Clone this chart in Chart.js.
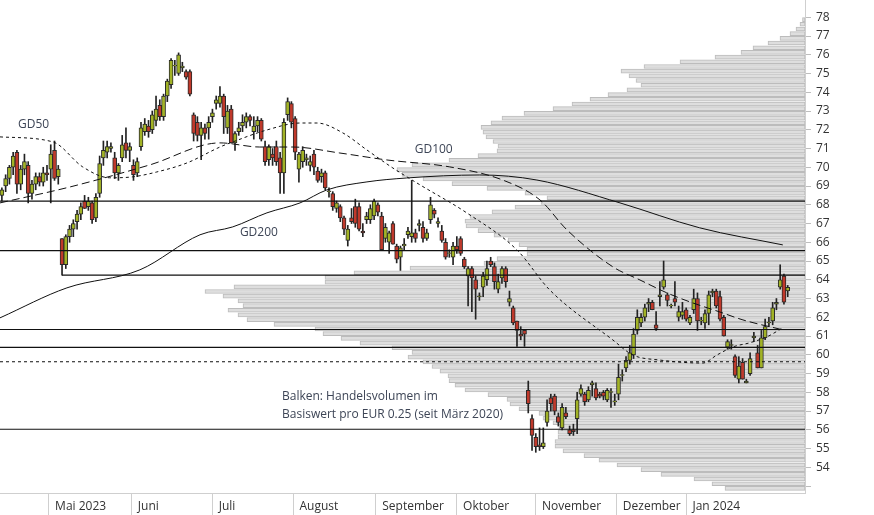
<!DOCTYPE html>
<html>
<head>
<meta charset="utf-8">
<script src="https://cdn.jsdelivr.net/npm/chart.js@4"></script>
<style>
  html, body { margin: 0; padding: 0; background: #fff; }
  #wrap { position: relative; width: 874px; height: 515px; }
  #wrap canvas { position: absolute; left: 0; top: 0; }
</style>
</head>
<body>
<div id="wrap">
  <canvas id="volChart" width="874" height="515"></canvas>
  <canvas id="priceChart" width="874" height="515"></canvas>
</div>
<script>
// Kursdaten (Handelstage ab Mitte April 2023)
const opens = [68.5,69.0,69.4,70.0,70.8,69.1,69.9,70.1,68.6,69.1,69.5,69.2,69.7,69.9,70.9,69.5,66.2,64.8,66.3,66.7,67.1,67.5,68.2,67.9,68.1,67.3,
  68.6,70.5,70.8,71.0,70.5,69.7,70.5,71.3,70.9,70.1,69.7,71.1,71.9,72.2,72.0,72.5,73.3,72.7,73.8,74.4,75.4,75.0,75.3,75.1,75.1,72.8,72.4,71.7,72.1,
  72.1,72.7,73.4,73.4,73.8,72.1,73.1,71.3,71.9,72.2,72.4,72.7,71.9,72.2,72.5,71.1,70.4,70.7,71.1,70.5,69.7,72.8,73.4,72.6,69.9,70.3,70.4,70.1,70.7,
  69.8,69.5,69.7,68.7,68.6,67.8,67.9,67.3,66.1,67.3,67.9,67.9,66.6,67.2,67.2,67.4,68.0,67.4,66.2,66.0,67.0,65.8,65.2,65.8,66.4,66.3,66.5,66.9,66.8,
  66.2,67.2,67.7,67.0,66.6,66.0,65.4,65.2,65.8,66.2,65.1,64.2,64.6,64.0,63.1,63.6,64.0,65.0,64.7,63.5,64.1,64.6,62.8,62.5,61.8,61.1,61.3,58.1,56.6,
  55.6,55.2,55.1,56.4,57.7,57.8,56.7,56.1,56.9,56.0,56.0,56.6,57.9,57.9,57.6,58.4,58.2,57.9,58.0,57.6,58.0,57.5,57.9,58.9,59.3,59.7,60.0,61.3,61.7,
  62.0,62.7,62.8,61.6,63.1,63.6,63.2,62.6,63.0,62.0,62.1,62.4,61.7,62.4,63.0,61.8,61.7,62.2,63.3,63.4,63.1,62.0,60.4,60.5,59.9,58.7,59.6,58.5,59.0,
  60.9,60.1,59.3,60.9,61.7,61.8,62.7,63.6,64.2,63.4];
const highs = [68.9,69.6,70.1,70.8,70.9,70.1,70.7,70.3,69.3,69.7,69.7,70.0,70.1,71.2,71.4,70.1,66.2,66.4,66.9,67.2,67.7,68.1,68.5,68.4,68.2,68.6,
  70.6,71.4,71.4,71.3,70.8,70.2,71.7,72.1,71.3,70.4,70.5,72.4,72.6,72.5,73.0,73.8,73.6,73.9,74.7,75.8,75.7,76.1,75.6,75.2,75.2,72.9,72.7,72.4,72.3,
  72.7,73.1,73.8,74.3,73.9,73.3,73.3,71.9,72.4,72.8,72.9,72.8,72.7,72.7,72.6,71.4,71.2,71.0,71.4,70.8,72.6,73.7,73.5,72.7,70.8,71.1,70.7,70.6,70.9,
  70.0,69.9,69.8,68.9,68.7,68.2,68.0,67.4,66.9,67.8,68.3,68.1,67.0,67.6,68.0,68.3,68.1,67.6,67.0,66.6,67.1,65.9,65.8,66.2,66.8,69.3,66.7,67.2,67.1,
  66.7,68.4,67.8,67.3,66.9,66.2,65.6,66.0,66.3,66.3,65.2,64.7,64.7,64.2,63.3,64.4,65.0,65.2,64.9,64.3,64.7,64.7,63.4,62.6,61.8,61.5,61.3,58.6,56.8,
  55.8,56.1,56.1,57.6,57.9,57.9,56.9,57.4,57.2,56.2,56.3,58.0,58.4,58.0,58.3,58.6,58.5,58.0,58.1,58.2,58.2,57.9,59.5,59.2,59.9,60.5,61.4,62.4,62.2,
  62.7,63.0,62.9,62.3,63.9,65.0,63.3,62.7,63.9,62.6,62.8,62.5,62.1,63.5,63.3,62.0,62.4,63.4,63.5,63.5,63.4,62.1,60.8,60.8,60.0,59.9,59.8,58.7,60.1,
  61.2,60.5,61.3,61.9,62.0,62.8,63.0,64.8,64.3,63.7];
const lows = [68.2,68.7,69.1,69.6,68.6,68.8,69.6,68.1,68.3,68.8,69.0,69.0,69.3,68.1,69.3,69.1,64.25,64.6,66.0,66.3,66.7,67.2,67.8,67.7,67.0,67.1,
  68.4,70.1,70.5,70.8,69.4,69.3,70.3,70.5,70.3,69.3,69.5,70.9,71.7,71.6,71.8,72.2,72.5,72.5,73.5,74.2,74.9,74.9,75.1,74.7,73.8,71.4,71.4,70.4,71.5,
  71.5,72.4,73.1,73.2,71.8,71.8,71.3,70.9,71.7,71.9,72.1,72.2,71.5,71.9,71.4,70.1,70.1,70.1,70.1,68.6,68.6,72.5,72.1,70.4,69.2,70.0,70.1,69.8,69.6,
  69.2,69.2,68.8,68.4,67.7,67.6,67.1,66.4,65.8,67.0,66.8,66.6,66.3,67.0,67.0,67.2,67.4,65.6,66.0,65.4,65.9,64.9,64.5,65.6,66.2,66.0,66.0,66.6,66.0,
  66.1,67.0,67.3,66.8,66.0,65.1,65.2,64.8,65.4,65.3,64.6,62.6,62.3,61.9,62.9,63.1,63.7,64.7,63.5,63.3,63.8,63.6,62.6,61.6,60.45,60.8,60.45,56.9,54.9,
  54.8,54.9,55.0,56.2,57.0,56.8,56.2,56.0,56.6,55.7,55.7,55.8,57.8,57.3,57.5,57.8,57.6,57.7,57.6,57.5,57.2,57.3,57.6,58.6,59.1,59.5,59.8,61.1,61.5,
  61.8,62.3,62.4,61.3,62.6,63.5,62.6,62.5,62.6,61.8,61.9,61.8,61.6,62.2,61.3,61.6,61.4,61.6,63.1,62.5,61.8,61.0,60.3,60.3,58.8,58.5,58.7,58.5,58.9,
  60.7,59.3,59.3,60.8,61.5,61.6,62.4,63.5,62.7,63.1];
const closes = [68.8,69.4,70.0,70.6,69.1,69.9,70.3,68.6,69.1,69.5,69.2,69.7,69.6,70.7,69.4,69.9,64.8,66.3,66.7,67.0,67.5,67.9,67.8,68.2,67.2,68.4,
  70.2,70.9,71.1,71.1,69.7,70.1,71.2,70.9,71.1,69.6,70.3,72.1,72.3,71.9,72.8,73.1,72.7,73.8,74.6,75.7,75.4,76.0,75.4,74.8,73.9,71.8,71.7,72.1,71.8,
  72.4,72.9,73.6,73.8,72.7,73.0,71.3,71.8,72.1,72.4,72.7,72.5,72.2,72.5,71.5,70.3,71.1,70.5,70.3,69.7,72.4,73.5,72.4,70.8,70.7,70.9,70.5,70.3,70.0,
  69.3,69.7,68.9,68.7,67.9,68.1,67.3,66.7,66.7,67.1,67.0,66.7,66.5,67.4,67.8,68.2,67.6,65.6,66.8,66.5,65.9,65.1,65.7,65.9,66.6,66.5,66.2,67.0,66.2,
  66.5,68.0,67.5,67.1,66.1,65.2,65.4,65.8,65.6,65.4,64.7,64.6,64.1,63.5,63.1,64.2,64.6,64.8,63.9,63.9,64.6,63.9,63.0,61.7,61.3,61.0,61.1,57.4,55.7,
  55.1,55.1,55.3,57.0,57.4,57.0,56.4,57.2,56.7,55.8,55.9,57.6,58.2,57.5,58.1,58.5,57.7,57.8,57.8,58.1,58.0,57.5,58.8,58.9,59.7,60.1,61.1,62.0,62.0,
  62.5,62.8,62.4,61.4,63.2,64.0,62.9,62.6,62.8,62.3,62.3,61.9,62.0,63.0,61.8,61.8,62.2,63.2,63.4,62.6,61.9,61.0,60.7,60.5,58.9,59.4,58.7,58.6,59.8,
  61.0,59.3,60.9,61.5,61.7,62.5,62.8,64.0,62.8,63.6];

// Gleitende Durchschnitte (Handelstag, Kurs)
const gd50Days = [-0.5,13.6,21.5,28.7,34.8,41.2,49.2,58.0,61.4,70.5,79.3,83.8,90.7,97.1,104.0,110.4,123.7,137.0,145.7,162.5,167.8,175.0,186.4,190.2,194.4,198.9,203.5,207.7];
const gd50Vals = [71.62,71.35,70.02,69.44,69.49,69.75,70.23,71.08,71.35,71.99,72.36,72.36,71.83,70.92,69.96,69.16,67.56,65.59,63.46,60.79,59.99,59.72,59.56,59.99,60.42,60.64,60.96,61.44];
const gd100Days = [-0.5,18.1,39.4,58.0,68.6,77.4,89.9,102.4,119.1,133.2,143.1,150.3,162.5,169.7,176.9,183.0,191.0,197.1,207.7];
const gd100Vals = [68.10,68.95,70.13,71.30,71.08,71.08,70.76,70.39,70.02,69.32,68.26,66.66,64.69,63.99,63.30,62.82,62.28,61.86,61.33];
const gd200Days = [-0.5,17.3,36.7,52.7,61.4,70.5,79.3,86.4,97.1,107.7,127.1,142.3,164.4,185.6,207.7];
const gd200Vals = [61.97,63.57,64.53,66.40,66.82,67.57,68.10,68.79,69.22,69.43,69.59,69.32,68.10,66.77,65.86];

// Horizontale Marken
const levels = [68.2, 65.55, 61.35, 60.4, 56.03];
const gapLevel = 64.25;
const gapStartDay = 16;
const dashedLevel = 59.63;

// Monatsbeschriftung
const monthDays = [12.5, 34.5, 56, 77.5, 99.5, 121, 142, 163.5, 182];
const monthLabels = ['Mai 2023', 'Juni', 'Juli', 'August', 'September', 'Oktober', 'November', 'Dezember', 'Jan 2024'];

// Volumenprofil: Handelsvolumen je EUR 0.25, von oben (77.875) nach unten
const volTop = 77.875;
const volStep = 0.25;
const volValues = [2.5,5,9,15,25,37,52,64,90,125,161,184,176,169,164,178,197,215,233,252,281,303,314,324,322,319,312,307,308,327,
  356,393,408,403,382,353,318,280,258,264,290,313,335,340,339,327,311,297,286,278,
  278,308,321,395,451,480,480,571,600,582,567,562,577,567,558,531,490,482,464,445,413,393,397,382,373,365,357,356,350,340,
  317,298,295,286,266,262,252,246,247,247,250,250,242,221,206,188,164,144,111,93,80];
const volPrices = volValues.map((v, i) => volTop - i * volStep);

const yMin = 52.63, yMax = 78.92;
const xMin = -0.5, xMax = 213.6;
const FONT = "'Open Sans', 'DejaVu Sans', sans-serif";
const noPad = s => { s.paddingTop = 0; s.paddingBottom = 0; s.paddingLeft = 0; s.paddingRight = 0; };

// Hintergrund: Volumenbalken
new Chart(document.getElementById('volChart'), {
  type: 'bar',
  data: {
    datasets: [{
      data: volPrices.map((p, i) => ({ x: volValues[i], y: p })),
      backgroundColor: '#dedede',
      borderColor: '#bcbcbc',
      borderWidth: 1,
      barThickness: 4,
      borderSkipped: false
    }]
  },
  options: {
    indexAxis: 'y',
    responsive: false,
    animation: false,
    layout: { padding: { right: 69, bottom: 22 } },
    plugins: { legend: { display: false }, tooltip: { enabled: false } },
    scales: {
      x: { type: 'linear', min: 0, max: 805, reverse: true, display: false, offset: false },
      y: { type: 'linear', min: yMin, max: yMax, display: false, offset: false }
    }
  }
});

// Candles
const bodies = closes.map((c, i) => ({ x: i, y: [opens[i], c === opens[i] ? c + 0.04 : c] }));
const wicks = closes.map((c, i) => ({ x: i, y: [lows[i], highs[i]] }));
const bodyColors = closes.map((c, i) => c >= opens[i] ? '#a2b326' : '#c0392b');

const hLine = (y, from, dash) => ({
  type: 'line',
  data: [{ x: from, y: y }, { x: xMax, y: y }],
  borderColor: '#111', borderWidth: 1.2, borderDash: dash || [],
  pointRadius: 0, order: 0
});
const maLine = (days, vals, dash) => ({
  type: 'line',
  data: days.map((d, i) => ({ x: d, y: vals[i] })),
  borderColor: '#111', borderWidth: 1, borderDash: dash,
  pointRadius: 0, cubicInterpolationMode: 'monotone', order: 0
});

const labelsPlugin = {
  id: 'labels',
  afterDatasetsDraw(chart) {
    const { ctx, scales: { x, y } } = chart;
    ctx.save();
    ctx.font = '12px ' + FONT;
    ctx.fillStyle = '#3d4556';
    ctx.textBaseline = 'middle';
    const put = (t, d, p) => ctx.fillText(t, x.getPixelForValue(d), y.getPixelForValue(p));
    put('GD50', 4.3, 72.26);
    put('GD100', 109.8, 70.92);
    put('GD200', 63.3, 66.5);
    put('Balken: Handelsvolumen im', 74.5, 57.75);
    put('Basiswert pro EUR 0.25 (seit März 2020)', 74.5, 56.8);
    ctx.restore();
  }
};

new Chart(document.getElementById('priceChart'), {
  type: 'bar',
  data: {
    datasets: [
      maLine(gd50Days, gd50Vals, [3, 3]),
      maLine(gd100Days, gd100Vals, [8, 4]),
      maLine(gd200Days, gd200Vals, []),
      ...levels.map(l => hLine(l, xMin)),
      hLine(gapLevel, gapStartDay),
      hLine(dashedLevel, xMin, [3, 3]),
      { data: wicks, backgroundColor: '#222', barThickness: 1, grouped: false, order: 3 },
      { data: bodies, backgroundColor: bodyColors, borderColor: '#2a2a2a', borderWidth: 1,
        borderSkipped: false, barThickness: 4, grouped: false, order: 2 }
    ]
  },
  options: {
    responsive: false,
    animation: false,
    layout: { padding: 0 },
    plugins: { legend: { display: false }, tooltip: { enabled: false } },
    scales: {
      x: {
        type: 'linear', min: xMin, max: xMax, offset: false,
        afterBuildTicks: s => { s.ticks = monthDays.map(v => ({ value: v })); },
        afterFit: s => { s.height = 22; noPad(s); },
        grid: { drawOnChartArea: false, tickLength: 22, color: '#cfcfcf', offset: false },
        border: { color: '#cfcfcf' },
        ticks: {
          align: 'start', padding: -16, maxRotation: 0, autoSkip: false,
          color: '#333', font: { family: FONT, size: 12 },
          callback: (v, i) => '  ' + monthLabels[i]
        }
      },
      y: {
        type: 'linear', position: 'right', min: yMin, max: yMax, offset: false,
        afterBuildTicks: s => {
          const t = [];
          for (let v = 53; v <= 78.5; v += 0.5) t.push({ value: v });
          s.ticks = t;
        },
        afterFit: s => { s.width = 69; noPad(s); },
        grid: { drawOnChartArea: false, tickLength: 6, color: '#bdbdbd' },
        border: { color: '#cfcfcf' },
        ticks: {
          padding: 5, color: '#333', font: { family: FONT, size: 12 },
          callback: v => (v % 1 === 0 && v >= 54) ? String(v) : ''
        }
      }
    }
  },
  plugins: [labelsPlugin]
});
</script>
</body>
</html>
